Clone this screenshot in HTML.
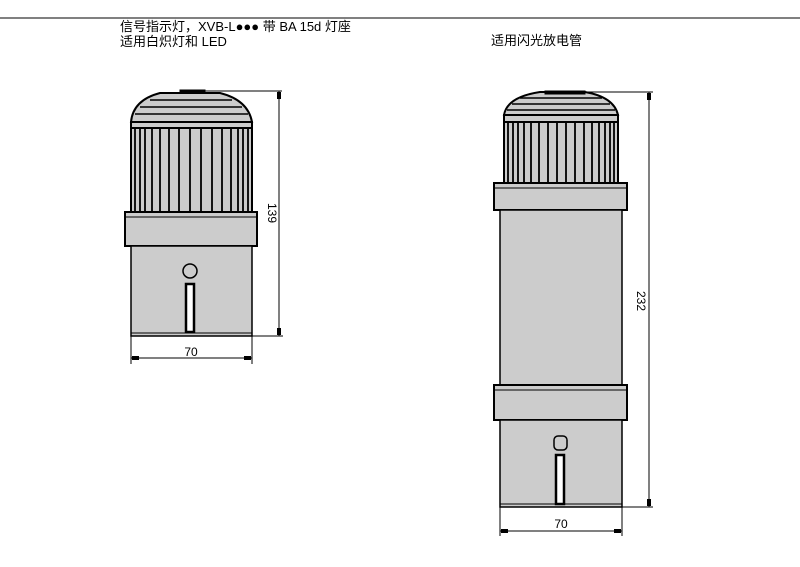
<!DOCTYPE html>
<html><head><meta charset="utf-8"><style>
html,body{margin:0;padding:0;background:#fff;width:800px;height:567px;overflow:hidden}
svg{display:block}
text{font-family:"Liberation Sans","Noto Sans CJK SC",sans-serif;fill:#000}
</style></head><body>
<svg width="800" height="567" viewBox="0 0 800 567" xmlns="http://www.w3.org/2000/svg">
<line x1="0" y1="18" x2="800" y2="18" stroke="#000" stroke-width="1"/>
<text x="120" y="31" font-size="13">信号指示灯，XVB-L●●● 带 BA 15d 灯座</text>
<text x="120" y="46" font-size="13">适用白炽灯和 LED</text>
<text x="491" y="45" font-size="13">适用闪光放电管</text>

<g stroke="#000" fill="#cccccc">
<!-- LEFT LAMP -->
<path d="M131,122 Q133,100 160,93 L220,93 Q248,100 252,122 Z" stroke-width="2"/>
<g stroke-width="1.5" fill="none">
<line x1="150" y1="100" x2="232" y2="100"/><line x1="140" y1="107" x2="242" y2="107"/><line x1="135" y1="114" x2="248" y2="114"/>
</g>
<rect x="180" y="90" width="25" height="3" fill="#000"/>
<rect x="131" y="122" width="121" height="6" stroke-width="2"/>
<rect x="131" y="128" width="121" height="84" stroke-width="2"/>
<g stroke-width="1.8">
<line x1="135" y1="128" x2="135" y2="212"/><line x1="140" y1="128" x2="140" y2="212"/><line x1="145" y1="128" x2="145" y2="212"/><line x1="152" y1="128" x2="152" y2="212"/><line x1="160" y1="128" x2="160" y2="212"/><line x1="169" y1="128" x2="169" y2="212"/><line x1="179" y1="128" x2="179" y2="212"/><line x1="190" y1="128" x2="190" y2="212"/><line x1="201" y1="128" x2="201" y2="212"/><line x1="212" y1="128" x2="212" y2="212"/><line x1="222" y1="128" x2="222" y2="212"/><line x1="231" y1="128" x2="231" y2="212"/><line x1="238" y1="128" x2="238" y2="212"/><line x1="243" y1="128" x2="243" y2="212"/><line x1="248" y1="128" x2="248" y2="212"/>
</g>
<rect x="125" y="212" width="132" height="34" stroke-width="2"/>
<line x1="126" y1="217" x2="256" y2="217" stroke-width="1"/>
<rect x="131" y="246" width="121" height="90" stroke-width="1.5"/>
<line x1="131" y1="333" x2="252" y2="333" stroke-width="1"/>
<circle cx="190" cy="271" r="7" stroke-width="1.5"/>
<rect x="186" y="284" width="8" height="48" stroke-width="2.5" fill="#fff"/>

<!-- RIGHT LAMP -->
<path d="M504,115 Q507,97 540,92 L585,92 Q614,97 618,115 Z" stroke-width="2"/>
<g stroke-width="1.5" fill="none">
<line x1="520" y1="98" x2="602" y2="98"/><line x1="512" y1="104" x2="610" y2="104"/><line x1="507" y1="110" x2="615" y2="110"/>
</g>
<rect x="545" y="91" width="40" height="3" fill="#000"/>
<rect x="504" y="115" width="114" height="7" stroke-width="2"/>
<rect x="504" y="122" width="114" height="61" stroke-width="2"/>
<g stroke-width="1.8">
<line x1="508" y1="122" x2="508" y2="183"/><line x1="513" y1="122" x2="513" y2="183"/><line x1="518" y1="122" x2="518" y2="183"/><line x1="524" y1="122" x2="524" y2="183"/><line x1="531" y1="122" x2="531" y2="183"/><line x1="539" y1="122" x2="539" y2="183"/><line x1="548" y1="122" x2="548" y2="183"/><line x1="557" y1="122" x2="557" y2="183"/><line x1="566" y1="122" x2="566" y2="183"/><line x1="575" y1="122" x2="575" y2="183"/><line x1="584" y1="122" x2="584" y2="183"/><line x1="592" y1="122" x2="592" y2="183"/><line x1="599" y1="122" x2="599" y2="183"/><line x1="605" y1="122" x2="605" y2="183"/><line x1="610" y1="122" x2="610" y2="183"/><line x1="614" y1="122" x2="614" y2="183"/>
</g>
<rect x="494" y="183" width="133" height="27" stroke-width="2"/>
<line x1="495" y1="188" x2="626" y2="188" stroke-width="1"/>
<rect x="500" y="210" width="122" height="175" stroke-width="1.5"/>
<rect x="494" y="385" width="133" height="35" stroke-width="2"/>
<line x1="495" y1="390" x2="626" y2="390" stroke-width="1"/>
<rect x="500" y="420" width="122" height="87" stroke-width="1.5"/>
<line x1="500" y1="504" x2="622" y2="504" stroke-width="1"/>
<rect x="554" y="436" width="13" height="14" rx="4" stroke-width="1.5"/>
<rect x="556" y="455" width="8" height="49" stroke-width="2.5" fill="#fff"/>
</g>

<!-- dimensions -->
<g stroke="#000" stroke-width="1" fill="none">
<line x1="205" y1="91" x2="282" y2="91"/>
<line x1="279" y1="91" x2="279" y2="336"/>
<line x1="252" y1="336" x2="283" y2="336"/>
<line x1="131" y1="336" x2="131" y2="364"/>
<line x1="252" y1="336" x2="252" y2="364"/>
<line x1="131" y1="358" x2="252" y2="358"/>
<line x1="585" y1="92" x2="653" y2="92"/>
<line x1="649" y1="92" x2="649" y2="507"/>
<line x1="622" y1="507" x2="653" y2="507"/>
<line x1="500" y1="507" x2="500" y2="536"/>
<line x1="622" y1="507" x2="622" y2="536"/>
<line x1="500" y1="531" x2="622" y2="531"/>
</g>
<g fill="#000">
<rect x="277" y="92" width="4" height="7"/><rect x="277" y="328" width="4" height="7"/>
<rect x="132" y="356" width="7" height="4"/><rect x="244" y="356" width="7" height="4"/>
<rect x="647" y="93" width="4" height="7"/><rect x="647" y="499" width="4" height="7"/>
<rect x="501" y="529" width="7" height="4"/><rect x="614" y="529" width="7" height="4"/>
</g>
<text x="191" y="356" font-size="12" text-anchor="middle">70</text>
<text x="561" y="528" font-size="12" text-anchor="middle">70</text>
<text transform="translate(268,213) rotate(90)" font-size="12" text-anchor="middle">139</text>
<text transform="translate(637,301) rotate(90)" font-size="12" text-anchor="middle">232</text>
</svg>
</body></html>
